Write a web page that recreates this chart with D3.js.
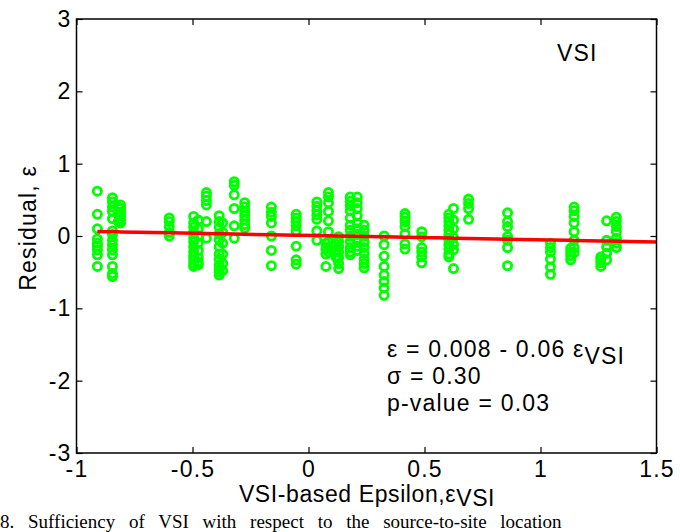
<!DOCTYPE html>
<html>
<head>
<meta charset="utf-8">
<script src="https://cdn.jsdelivr.net/npm/d3@7"></script>
<style>
  html, body { margin: 0; padding: 0; background: #fff; }
  svg { display: block; }
  text { font-family: "Liberation Sans", Arial, sans-serif; fill: #000; }
</style>
</head>
<body>
<svg id="chart" width="680" height="532"></svg>
<script>
// ---- data ----
const columnX = [-0.91, -0.845, -0.81, -0.82, -0.60, -0.495, -0.475, -0.44, -0.385, -0.37,
  -0.32, -0.275, -0.16, -0.053, 0.036, 0.086, 0.075, 0.13, 0.12, 0.18,
  0.21, 0.24, 0.326, 0.416, 0.488, 0.605, 0.625, 0.69, 0.858, 1.043,
  1.13, 1.145, 1.26, 1.285, 1.327];
const columnResiduals = [
  [0.62, 0.30, 0.10, -0.04, -0.10, -0.14, -0.19, -0.26, -0.42],
  [0.53, 0.47, 0.40, 0.34, 0.24, 0.07, 0.02, -0.06, -0.12, -0.19, -0.26, -0.42, -0.52, -0.56],
  [0.43, 0.38, 0.33, 0.28, 0.23, 0.18],
  [0.40, 0.30, 0.20],
  [0.25, 0.20, 0.13, 0.05, 0.0],
  [0.27, 0.18, 0.12, 0.05, -0.02, -0.08, -0.15, -0.22, -0.28, -0.33, -0.38, -0.42],
  [0.22, 0.10, 0.0, -0.10, -0.20, -0.30, -0.36, -0.40],
  [0.60, 0.55, 0.49, 0.43, 0.20, -0.03],
  [0.28, 0.20, 0.12, 0.03, -0.05, -0.15, -0.25, -0.32, -0.40, -0.46, -0.50, -0.54],
  [0.18, 0.05, -0.10, -0.25, -0.38, -0.48],
  [0.75, 0.70, 0.57, 0.38, 0.14, -0.03],
  [0.46, 0.40, 0.34, 0.28, 0.22, 0.16, 0.11],
  [0.40, 0.33, 0.27, 0.18, 0.0, -0.20, -0.41],
  [0.30, 0.25, 0.20, 0.14, 0.07, -0.14, -0.33, -0.39],
  [0.47, 0.41, 0.35, 0.29, 0.23, 0.07, -0.06],
  [0.60, 0.54, 0.46, 0.34, 0.21, 0.06, -0.08, -0.15, -0.22],
  [-0.10, -0.18, -0.25, -0.42],
  [-0.01, -0.08, -0.15, -0.22, -0.30, -0.38, -0.45],
  [-0.05, -0.20, -0.30],
  [0.54, 0.48, 0.42, 0.35, 0.25, 0.15, 0.08, 0.0, -0.08, -0.16, -0.22, -0.26],
  [0.54, 0.46, 0.38, 0.28, 0.18, 0.10, 0.02, -0.06, -0.14, -0.20],
  [0.15, 0.08, 0.0, -0.08, -0.16, -0.24, -0.32, -0.38, -0.44],
  [0.0, -0.12, -0.28, -0.42, -0.54, -0.63, -0.72, -0.82],
  [0.31, 0.26, 0.20, 0.13, 0.03, -0.11, -0.18],
  [0.06, -0.01, -0.16, -0.22, -0.29, -0.37],
  [0.30, 0.25, 0.20, 0.14, 0.08, 0.02, -0.05, -0.12, -0.18, -0.25, -0.29],
  [0.38, 0.22, 0.10, -0.02, -0.12, -0.19, -0.45],
  [0.51, 0.45, 0.38, 0.23],
  [0.32, 0.20, 0.13, -0.01, -0.06, -0.16, -0.41],
  [-0.10, -0.16, -0.22, -0.32, -0.43, -0.53],
  [-0.17, -0.22, -0.27, -0.33],
  [0.40, 0.35, 0.27, 0.18, 0.06, -0.06, -0.16, -0.23],
  [-0.29, -0.33, -0.37, -0.42],
  [0.21, -0.06, -0.15, -0.24, -0.33],
  [0.26, 0.20, 0.13, 0.06, -0.03, -0.10, -0.16]
];
const fitIntercept = 0.008;
const fitSlope = -0.06;
const fitRange = [-0.91, 1.5];
const xTicks = [-1, -0.5, 0, 0.5, 1, 1.5];
const yTicks = [-3, -2, -1, 0, 1, 2, 3];
const xDomain = [-1, 1.5];
const yDomain = [-3, 3];

(function () {
const svg = d3.select("#chart");
const pLeft = 76.5, pRight = 656.5, pTop = 19, pBottom = 453;
const FS = "23px", LS = "1.2px";
const x = d3.scaleLinear().domain(xDomain).range([pLeft, pRight]);
const y = d3.scaleLinear().domain(yDomain).range([pBottom, pTop]);
const fmt = v => String(v);  // plain hyphen minus, as in the reference

const points = [];
columnX.forEach((cx, i) => columnResiduals[i].forEach(r => points.push([cx, r])));

// points
svg.append("g").selectAll("circle").data(points).join("circle")
  .attr("cx", d => x(d[0])).attr("cy", d => y(d[1])).attr("r", 4.1)
  .attr("fill", "none").attr("stroke", "#00ff00").attr("stroke-width", 2.8);

// fit line
const fitX = [fitRange[0]].concat(columnX.filter(v => v > fitRange[0]).sort(d3.ascending), [fitRange[1]]);
svg.append("path")
  .datum(fitX.map(v => [v, fitIntercept + fitSlope * v]))
  .attr("d", d3.line().x(d => x(d[0])).y(d => y(d[1])))
  .attr("fill", "none").attr("stroke", "#ff0000").attr("stroke-width", 3.5);

// axes box with inward ticks
const tickLen = 6;
const axisStyle = g => {
  g.select(".domain").remove();
  g.selectAll(".tick line").attr("stroke", "#000").attr("stroke-width", 1.2);
  g.selectAll("text").style("font-family", '"Liberation Sans", Arial, sans-serif')
    .style("font-size", FS).style("letter-spacing", LS).attr("fill", "#000");
};
svg.append("g").attr("transform", `translate(0,${pBottom})`)
  .call(d3.axisBottom(x).tickValues(xTicks).tickSizeInner(-tickLen).tickSizeOuter(0).tickPadding(8).tickFormat(fmt))
  .call(axisStyle);
svg.append("g").attr("transform", `translate(0,${pTop})`)
  .call(d3.axisTop(x).tickValues(xTicks).tickSizeInner(-tickLen).tickSizeOuter(0).tickFormat(""))
  .call(axisStyle);
svg.append("g").attr("transform", `translate(${pLeft},0)`)
  .call(d3.axisLeft(y).tickValues(yTicks).tickSizeInner(-tickLen).tickSizeOuter(0).tickPadding(5).tickFormat(fmt))
  .call(axisStyle);
svg.append("g").attr("transform", `translate(${pRight},0)`)
  .call(d3.axisRight(y).tickValues(yTicks).tickSizeInner(-tickLen).tickSizeOuter(0).tickFormat(""))
  .call(axisStyle);
svg.append("rect").attr("x", pLeft).attr("y", pTop).attr("width", pRight - pLeft).attr("height", pBottom - pTop)
  .attr("fill", "none").attr("stroke", "#000").attr("stroke-width", 1.5);

// labels
svg.append("text").attr("x", 557).attr("y", 61).style("font-size", FS).style("letter-spacing", LS).text("VSI");

const ann = svg.append("g").style("font-size", FS).style("letter-spacing", LS);
const t1 = ann.append("text").attr("x", 387).attr("y", 357);
t1.append("tspan").text("ε = 0.008 - 0.06 ε");
t1.append("tspan").attr("dy", 7).text("VSI");
ann.append("text").attr("x", 387).attr("y", 384).text("σ = 0.30");
ann.append("text").attr("x", 387).attr("y", 411).text("p-value = 0.03");

const xt = svg.append("text").attr("x", 367).attr("y", 502)
  .attr("text-anchor", "middle").style("font-size", FS).style("letter-spacing", "0.6px");
xt.append("tspan").text("VSI-based Epsilon,ε");
xt.append("tspan").attr("dy", 4).text("VSI");

svg.append("text").attr("transform", `translate(36,228) rotate(-90)`)
  .attr("text-anchor", "middle").style("font-size", FS).style("letter-spacing", LS).text("Residual, ε");

svg.append("text").attr("x", 0).attr("y", 528)
  .style("font-family", '"Liberation Serif", "Times New Roman", serif').style("font-size", "19px")
  .style("word-spacing", "9px")
  .text("8. Sufficiency of VSI with respect to the source-to-site location");
})();
</script>
</body>
</html>
